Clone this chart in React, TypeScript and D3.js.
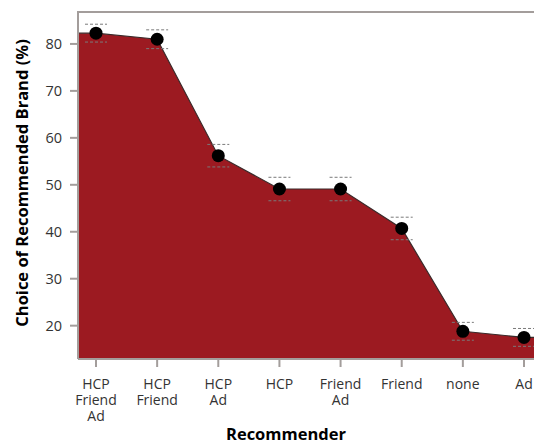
import React from "react";
import * as d3 from "d3";

const categories: string[][] = [
  ["HCP", "Friend", "Ad"],
  ["HCP", "Friend"],
  ["HCP", "Ad"],
  ["HCP"],
  ["Friend", "Ad"],
  ["Friend"],
  ["none"],
  ["Ad"],
];
const values = [82.3, 81.0, 56.2, 49.1, 49.1, 40.7, 18.8, 17.5];
const errors = [1.9, 2.0, 2.4, 2.5, 2.5, 2.4, 1.9, 1.9];
const yTicks = [20, 30, 40, 50, 60, 70, 80];

const W = 534;
const H = 442;
const left = 78;
const top = 12;
const bottom = 359;
const rightExt = 570;
const font = "'Open Sans', 'Noto Sans', sans-serif";

export default function App() {
  const keys = categories.map((c) => c.join(" "));
  const x = d3.scalePoint<string>().domain(keys).range([96, 524]);
  const y = d3.scaleLinear().domain([12.9, 86.8]).range([bottom, top]);

  const pts: [number, number][] = values.map((v, i) => [x(keys[i]) as number, y(v)]);
  const full: [number, number][] = [[left, y(values[0])], ...pts, [rightExt, y(values[values.length - 1])]];

  const area = d3
    .area<[number, number]>()
    .x((d) => d[0])
    .y0(bottom)
    .y1((d) => d[1]);
  const line = d3
    .line<[number, number]>()
    .x((d) => d[0])
    .y((d) => d[1]);

  return (
    <svg width={W} height={H} style={{ position: "absolute", left: 0, top: 0 }} fontFamily={font}>
      <path d={area(full) || ""} fill="#9c1a21" />
      <path d={line(full) || ""} fill="none" stroke="#3a2a2a" strokeWidth={1.2} />
      {/* frame */}
      <line x1={left} x2={W + 10} y1={top} y2={top} stroke="#a39d9b" strokeWidth={2} />
      <line x1={left} x2={left} y1={top - 1} y2={bottom} stroke="#a39d9b" strokeWidth={2} />
      <line x1={left} x2={W + 10} y1={bottom} y2={bottom} stroke="#a39d9b" strokeWidth={2} />
      {/* y ticks */}
      {yTicks.map((t) => (
        <g key={t}>
          <line x1={left - 8} x2={left} y1={y(t)} y2={y(t)} stroke="#a39d9b" strokeWidth={2} />
          <text x={left - 16} y={y(t)} dy="0.36em" textAnchor="end" fontSize={14.5} fill="#333">
            {t}
          </text>
        </g>
      ))}
      {/* x ticks */}
      {keys.map((k, i) => (
        <g key={k}>
          <line x1={x(k)} x2={x(k)} y1={bottom} y2={bottom + 8} stroke="#a39d9b" strokeWidth={2} />
          {categories[i].map((s, j) => (
            <text key={j} x={x(k)} y={389 + j * 16} textAnchor="middle" fontSize={14} fill="#333">
              {s}
            </text>
          ))}
        </g>
      ))}
      {/* error bars */}
      {values.map((v, i) => {
        const cx = x(keys[i]) as number;
        return (
          <g key={"e" + i} stroke="#7a7a7a" strokeWidth={1} strokeDasharray="3,2">
            <line x1={cx - 11} x2={cx + 11} y1={y(v + errors[i])} y2={y(v + errors[i])} />
            <line x1={cx - 11} x2={cx + 11} y1={y(v - errors[i])} y2={y(v - errors[i])} />
          </g>
        );
      })}
      {/* points */}
      {pts.map((p, i) => (
        <circle key={"p" + i} cx={p[0]} cy={p[1]} r={6.5} fill="#000" />
      ))}
      {/* titles */}
      <text
        transform={`translate(28,183) rotate(-90)`}
        textAnchor="middle"
        fontSize={16.5}
        fontWeight="bold"
        fill="#000"
      >
        Choice of Recommended Brand (%)
      </text>
      <text x={286} y={439.5} textAnchor="middle" fontSize={16.5} fontWeight="bold" fill="#000">
        Recommender
      </text>
    </svg>
  );
}
